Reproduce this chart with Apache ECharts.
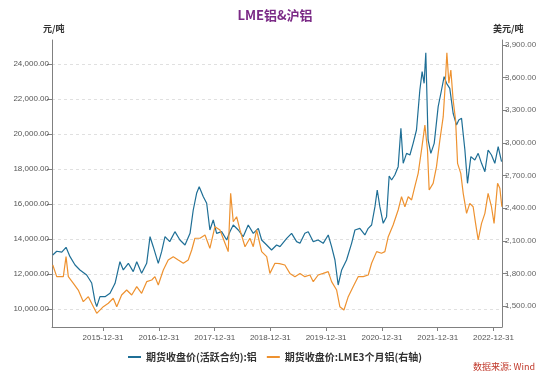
<!DOCTYPE html>
<html>
<head>
<meta charset="utf-8">
<script src="https://cdn.jsdelivr.net/npm/echarts@6/dist/echarts.min.js"></script>
<style>
html,body{margin:0;padding:0;background:#fff;}
#chart{width:550px;height:376px;}
</style>
</head>
<body>
<div id="chart"></div>
<script>
// 期货收盘价(活跃合约):铝  (元/吨)
const shfeDates = [
'2015-02-05','2015-03-03','2015-04-05','2015-05-03','2015-05-29','2015-07-01','2015-08-02','2015-09-15','2015-10-18','2015-11-09','2015-11-20','2015-12-11',
'2016-01-13','2016-02-15','2016-03-19','2016-04-20','2016-05-12','2016-06-14','2016-07-16','2016-08-08','2016-09-09','2016-10-12','2016-11-03','2016-11-24','2016-12-27',
'2017-01-18','2017-02-09','2017-03-12','2017-04-15','2017-05-18','2017-06-20','2017-07-23','2017-08-13','2017-09-04','2017-09-21','2017-10-18','2017-11-09','2017-11-30','2017-12-22',
'2018-01-13','2018-02-15','2018-03-20','2018-04-10','2018-05-02','2018-06-04','2018-07-06','2018-08-08','2018-09-10','2018-10-13','2018-11-04','2018-12-07',
'2019-01-08','2019-02-10','2019-03-04','2019-04-17','2019-05-19','2019-06-21','2019-07-13','2019-08-14','2019-09-05','2019-10-08','2019-11-09','2019-12-12',
'2020-01-14','2020-02-05','2020-02-27','2020-03-19','2020-04-11','2020-05-13','2020-06-15','2020-07-07','2020-08-08','2020-09-10','2020-10-02','2020-10-24','2020-11-15','2020-11-30','2020-12-17',
'2021-01-08','2021-01-30','2021-02-16','2021-03-04','2021-03-25','2021-04-16','2021-05-04','2021-05-19','2021-06-10','2021-07-02','2021-07-23','2021-08-14','2021-09-05','2021-09-20','2021-10-03','2021-10-14','2021-10-29','2021-11-16','2021-12-08',
'2022-01-03','2022-01-25','2022-02-11','2022-02-27','2022-03-20','2022-04-11','2022-05-03','2022-05-18','2022-06-05','2022-06-27','2022-07-14','2022-08-05','2022-08-31','2022-09-22','2022-10-14','2022-11-05','2022-11-26','2022-12-18',
'2023-01-09','2023-01-31','2023-02-22'
];
const shfeValues = [
13086,13300,13250,13526,12990,12514,12229,11943,11486,10420,10133,10703,
10703,10897,11469,12703,12229,12610,12133,12703,12040,12610,14131,13560,12610,
13275,14131,13850,14418,13943,13657,14324,15657,16610,16990,16419,16040,14514,15086,
14324,14418,13943,14418,14800,14514,14133,14800,14324,14610,13943,13657,
13371,13657,13562,14038,14324,13848,13752,14324,14418,13848,13943,13752,
14229,13562,12800,11371,12229,12800,13752,14514,14610,14229,14610,14800,15848,16800,15848,
14896,15276,17600,17371,17657,18133,20326,18324,18895,18800,19467,20229,22514,23562,22895,24646,19657,18895,19467,
21562,22514,23276,22895,22610,21183,20514,20800,20896,19086,17181,18705,18514,18895,18324,17848,19086,18800,
18324,19276,18419
];

// 期货收盘价:LME3个月铝(右轴)  (美元/吨)
const lmeDates = [
'2015-02-05','2015-03-03','2015-04-15','2015-05-03','2015-05-18','2015-06-20','2015-07-22','2015-08-24','2015-09-26','2015-10-29','2015-11-20',
'2016-01-02','2016-02-04','2016-03-07','2016-03-30','2016-05-01','2016-06-03','2016-07-06','2016-08-08','2016-09-09','2016-10-12','2016-11-14','2016-12-05','2016-12-27',
'2017-01-29','2017-03-02','2017-04-04','2017-05-07','2017-06-09','2017-07-11','2017-08-03','2017-08-24','2017-09-26','2017-10-29','2017-11-30',
'2018-01-02','2018-02-04','2018-03-09','2018-03-30','2018-04-15','2018-05-02','2018-05-24','2018-06-15','2018-07-18','2018-08-19','2018-09-10','2018-10-02','2018-11-04','2018-12-07','2018-12-28',
'2019-01-30','2019-03-01','2019-04-05','2019-05-08','2019-06-10','2019-07-13','2019-08-14','2019-09-16','2019-10-08','2019-11-09','2019-12-12',
'2020-01-14','2020-02-05','2020-03-09','2020-03-30','2020-04-26','2020-05-24','2020-06-25','2020-07-28','2020-08-30','2020-10-02','2020-10-24','2020-11-26','2020-12-28',
'2021-01-19','2021-02-10','2021-03-14','2021-04-16','2021-05-08','2021-05-30','2021-06-21','2021-07-13','2021-08-03','2021-08-25','2021-09-16','2021-10-08','2021-10-25','2021-11-05','2021-12-01','2021-12-23',
'2022-01-14','2022-02-05','2022-02-16','2022-03-01','2022-03-14','2022-03-27','2022-04-11','2022-04-27','2022-05-10','2022-05-31','2022-06-16','2022-07-08','2022-07-29','2022-08-20','2022-09-05','2022-09-22','2022-10-14','2022-11-05','2022-11-26','2022-12-18',
'2023-01-04','2023-01-27','2023-02-11','2023-02-24'
];
const lmeValues = [
1877,1770,1770,1954,1770,1709,1647,1540,1586,1494,1433,
1494,1525,1571,1494,1601,1647,1601,1678,1617,1724,1739,1770,1693,
1831,1923,1954,1923,1893,1923,2015,2123,2123,2153,2031,
2229,2199,2077,2000,2536,2275,2321,2199,2045,2123,2045,2199,2000,1954,1800,
1893,1890,1877,1800,1770,1800,1770,1785,1724,1785,1800,
1816,1724,1647,1494,1463,1586,1678,1770,1770,1785,1893,2000,1985,
2000,2137,2245,2383,2505,2413,2505,2475,2597,2720,2935,3164,2935,2567,2628,2781,
3026,3241,3486,3829,3548,3670,3394,3210,2812,2720,2536,2352,2444,2413,2260,2107,2260,2352,2536,2413,
2260,2628,2582,2413
];

const xTickDates = ['2015-12-31','2016-12-31','2017-12-31','2018-12-31','2019-12-31','2020-12-31','2021-12-31','2022-12-31'];
const leftTicks = [10000,12000,14000,16000,18000,20000,22000,24000];
const rightTicks = [1500,1800,2100,2400,2700,3000,3300,3600,3900];

const seriesNames = ['期货收盘价(活跃合约):铝','期货收盘价:LME3个月铝(右轴)'];

const chart = echarts.init(document.getElementById('chart'), null, {renderer:'canvas'});
const ts = s => Date.parse(s);
const fmtNum = v => v.toLocaleString('en-US',{minimumFractionDigits:2,maximumFractionDigits:2});
const numFont = "'Liberation Sans', Arial, sans-serif";
const cjkFont = "'Noto Sans CJK SC', sans-serif";

chart.setOption({
  animation:false,
  backgroundColor:'#ffffff',
  title:{
    text:'LME铝&沪铝', left:'center', top:4,
    textStyle:{color:'#7b2a86', fontSize:13, fontWeight:'bold', fontFamily:cjkFont}
  },
  legend:{
    data:seriesNames, left:'center', top:347, icon:'rect', itemWidth:13, itemHeight:2, itemGap:10,
    textStyle:{color:'#333', fontSize:10, fontWeight:'bold', fontFamily:cjkFont}
  },
  graphic:[
    {type:'text', left:43, top:24, style:{text:'元/吨', fill:'#333', fontSize:9, fontWeight:'bold', fontFamily:cjkFont}},
    {type:'text', left:493, top:24, style:{text:'美元/吨', fill:'#333', fontSize:9, fontWeight:'bold', fontFamily:cjkFont}},
    {type:'text', right:15, top:362, style:{text:'数据来源: Wind', fill:'#c0392b', fontSize:9, fontFamily:cjkFont}}
  ],
  grid:{left:52, right:48, top:40, bottom:49},
  xAxis:{
    type:'value',
    min:ts('2015-01-31'), max:ts('2023-02-25'),
    axisLine:{show:true, lineStyle:{color:'#808080', width:1}},
    axisTick:{show:true, length:4, customValues:xTickDates.map(ts), lineStyle:{color:'#808080'}},
    axisLabel:{customValues:xTickDates.map(ts), color:'#555', fontSize:8, fontFamily:numFont, margin:7,
      formatter:v=>new Date(v).toISOString().slice(0,10)},
    splitLine:{show:false}
  },
  yAxis:[
    {
      type:'value', min:8971, max:25371, position:'left',
      axisLine:{show:true, lineStyle:{color:'#808080', width:1}},
      axisTick:{show:true, length:5, customValues:leftTicks, lineStyle:{color:'#808080'}},
      axisLabel:{customValues:leftTicks, color:'#555', fontSize:8, fontFamily:numFont, margin:3, formatter:fmtNum},
      splitLine:{show:true, lineStyle:{color:'#e0e0e0', type:[3,3], width:1}}
    },
    {
      type:'value', min:1307, max:3946, position:'right',
      axisLine:{show:true, lineStyle:{color:'#808080', width:1}},
      axisTick:{show:true, length:5, customValues:rightTicks, lineStyle:{color:'#808080'}},
      axisLabel:{customValues:rightTicks, color:'#666', fontSize:8, fontFamily:numFont, margin:3, formatter:fmtNum},
      splitLine:{show:false}
    }
  ],
  series:[
    {
      name:seriesNames[0], type:'line', yAxisIndex:0, showSymbol:false, symbol:'none',
      lineStyle:{color:'#1f6f96', width:1.2}, itemStyle:{color:'#1f6f96'},
      data:shfeDates.map((d,i)=>[ts(d), shfeValues[i]])
    },
    {
      name:seriesNames[1], type:'line', yAxisIndex:1, showSymbol:false, symbol:'none',
      lineStyle:{color:'#ee9230', width:1.2}, itemStyle:{color:'#ee9230'},
      data:lmeDates.map((d,i)=>[ts(d), lmeValues[i]])
    }
  ]
});
</script>
</body>
</html>
